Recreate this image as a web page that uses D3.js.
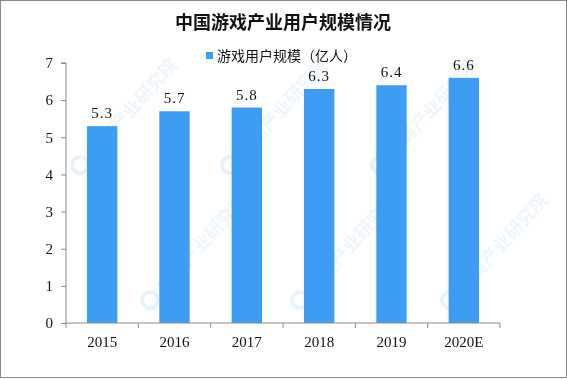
<!DOCTYPE html>
<html>
<head>
<meta charset="utf-8">
<script src="https://cdn.jsdelivr.net/npm/d3@7"></script>
<style>
  body { margin: 0; background: #fff; }
  svg text { font-family: "Liberation Serif", "Noto Sans CJK SC", serif; }
</style>
</head>
<body>
<svg id="chart" width="567" height="379"></svg>
<script>
const years = ["2015", "2016", "2017", "2018", "2019", "2020E"];
const users = [5.3, 5.7, 5.8, 6.3, 6.4, 6.6];
const yTicks = [0, 1, 2, 3, 4, 5, 6, 7];
const title = "中国游戏产业用户规模情况";
const seriesName = "游戏用户规模（亿人）";

const svg = d3.select("#chart"),
  width = +svg.attr("width"),
  height = +svg.attr("height");

const margin = { left: 66, right: 67, top: 63, bottom: 56 };

// faint watermark tiles, kept inside the picture
const wm = svg.append("g").attr("opacity", 0.35);
const wmPos = [[80, 165], [230, 165], [380, 165], [150, 300], [300, 300], [450, 300]];
wmPos.forEach(function (p) {
  const g = wm.append("g").attr("transform", `translate(${p[0]},${p[1]}) rotate(-48)`);
  g.append("circle").attr("r", 8).attr("fill", "none").attr("stroke", "#bcd9ef").attr("stroke-width", 4);
  g.append("text")
    .attr("x", 14).attr("y", 7)
    .style("font-family", "Noto Sans CJK SC")
    .style("font-size", "18px")
    .style("font-weight", "bold")
    .attr("fill", "#cfe4f4")
    .text("中商产业研究院");
});

// border
svg.append("rect")
  .attr("x", 0.5).attr("y", 0.5)
  .attr("width", width - 1).attr("height", height - 2)
  .attr("fill", "none").attr("stroke", "#8a8a8a");

const x = d3.scaleBand()
  .domain(years)
  .range([margin.left, width - margin.right])
  .paddingInner(0.58)
  .paddingOuter(0.29);

const y = d3.scaleLinear()
  .domain([0, 7])
  .range([height - margin.bottom, margin.top]);

svg.append("text")
  .attr("x", 283).attr("y", 29)
  .attr("text-anchor", "middle")
  .style("font-family", "Noto Sans CJK SC")
  .style("font-size", "18px")
  .style("font-weight", "bold")
  .attr("fill", "#111")
  .text(title);

svg.append("rect")
  .attr("x", 206).attr("y", 52)
  .attr("width", 7).attr("height", 7)
  .attr("fill", "#3d9df3");
svg.append("text")
  .attr("x", 217).attr("y", 61)
  .style("font-family", "Noto Sans CJK SC")
  .style("font-size", "14px")
  .attr("fill", "#111")
  .text(seriesName);

svg.selectAll(".bar")
  .data(users)
  .join("rect")
  .attr("class", "bar")
  .attr("x", (d, i) => x(years[i]))
  .attr("y", d => y(d))
  .attr("width", x.bandwidth())
  .attr("height", d => y(0) - y(d))
  .attr("fill", "#3d9df3");

svg.selectAll(".lbl")
  .data(users)
  .join("text")
  .attr("class", "lbl")
  .attr("x", (d, i) => x(years[i]) + x.bandwidth() / 2)
  .attr("y", d => y(d) - 8)
  .attr("text-anchor", "middle")
  .style("font-size", "15px")
  .style("letter-spacing", "1px")
  .attr("fill", "#111")
  .text(d => d.toFixed(1));

// y axis
const yAxis = svg.append("g")
  .attr("transform", `translate(${margin.left},0)`)
  .call(d3.axisLeft(y).tickValues(yTicks).tickFormat(d3.format("d")).tickSize(5).tickPadding(8));
yAxis.select(".domain").attr("stroke", "#8a8a8a").attr("d", `M-5,${y(7)}H0V${y(0)}`);
yAxis.selectAll(".tick line").attr("stroke", "#8a8a8a");
yAxis.selectAll(".tick text").style("font-size", "15px").attr("fill", "#111");

// x axis with ticks on band edges
const xg = svg.append("g").attr("transform", `translate(0,${y(0)})`);
xg.append("line")
  .attr("x1", margin.left).attr("x2", width - margin.right)
  .attr("stroke", "#8a8a8a");
const edges = d3.range(years.length + 1).map(i => margin.left + i * (width - margin.left - margin.right) / years.length);
xg.selectAll(".xt")
  .data(edges)
  .join("line")
  .attr("class", "xt")
  .attr("x1", d => d).attr("x2", d => d)
  .attr("y1", 0).attr("y2", 5)
  .attr("stroke", "#8a8a8a");
xg.selectAll(".xl")
  .data(years)
  .join("text")
  .attr("class", "xl")
  .attr("x", d => x(d) + x.bandwidth() / 2)
  .attr("y", 24)
  .attr("text-anchor", "middle")
  .style("font-size", "15px")
  .attr("fill", "#111")
  .text(d => d);
</script>
</body>
</html>
